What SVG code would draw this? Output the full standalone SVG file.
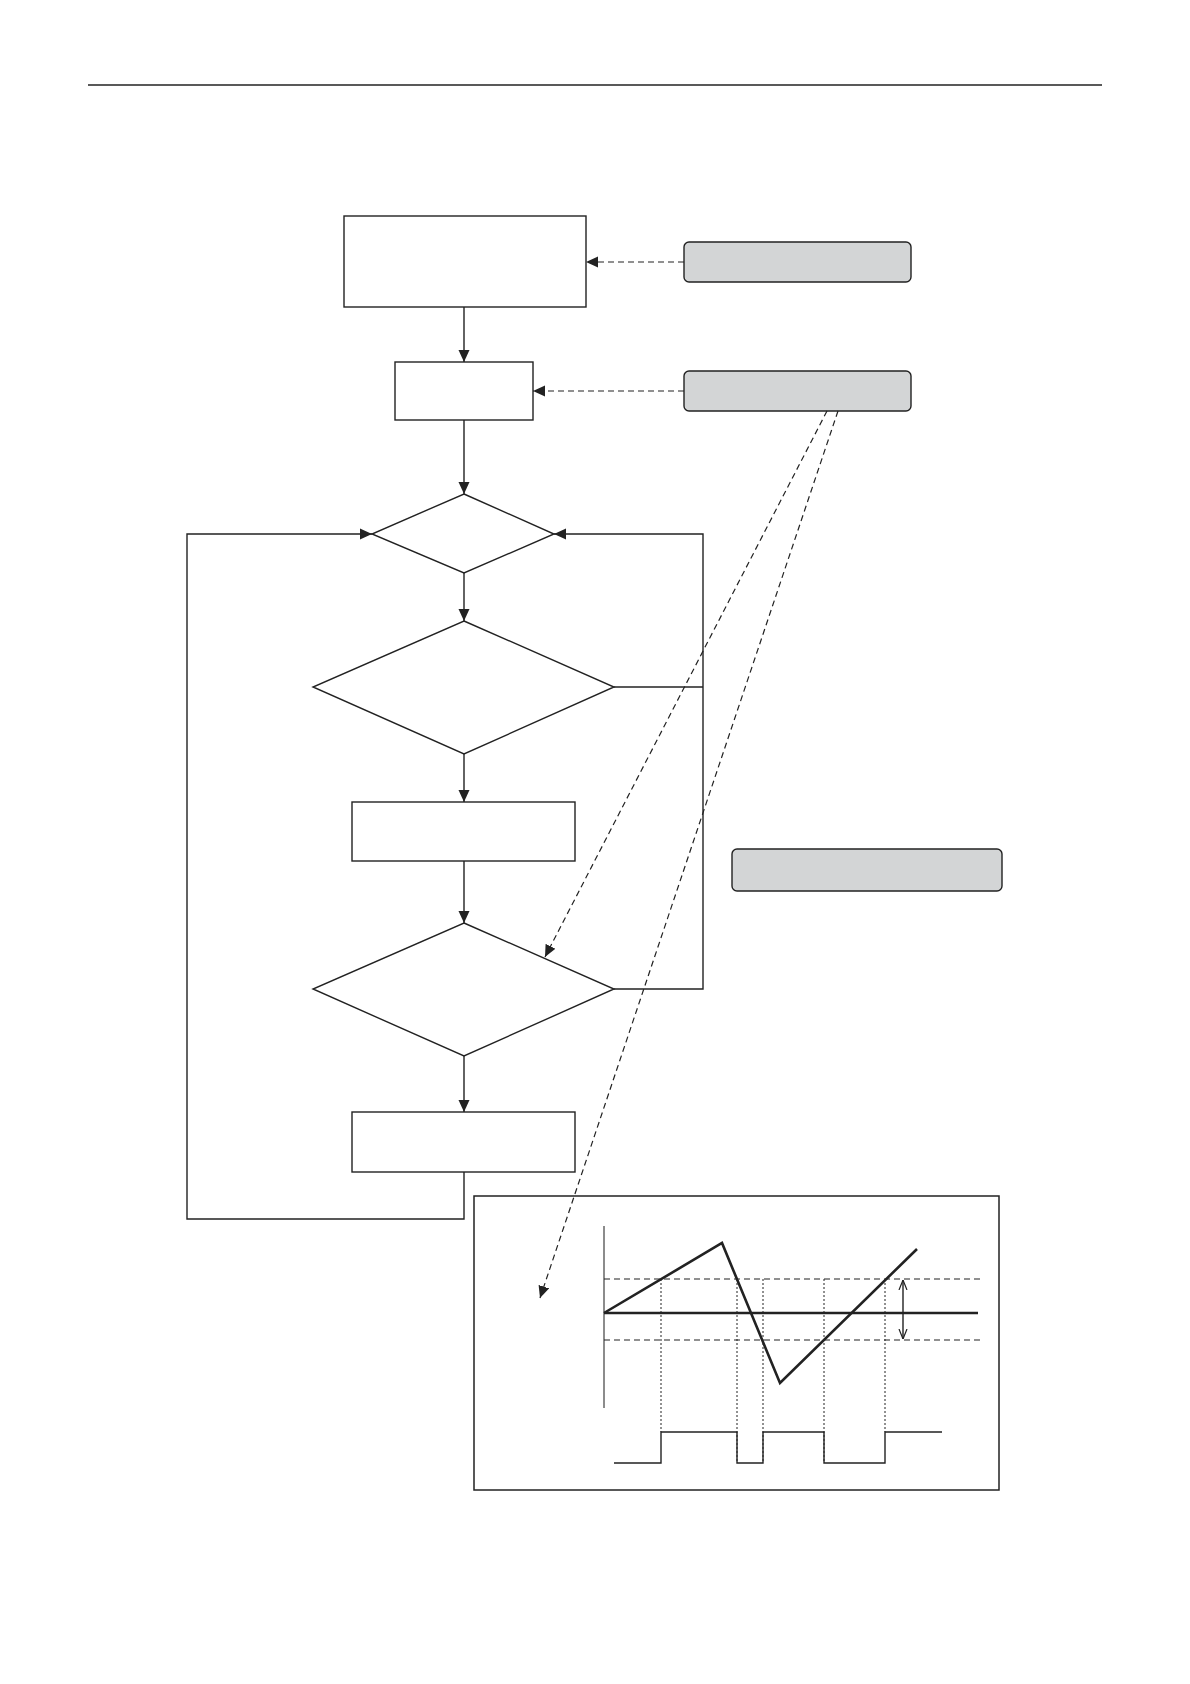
<svg xmlns="http://www.w3.org/2000/svg" width="1190" height="1684" viewBox="0 0 1190 1684">
<style>
.node{fill:#fff;stroke:#222;stroke-width:1.4}
.note{fill:#d3d5d6;stroke:#222;stroke-width:1.4}
.c{fill:none;stroke:#222;stroke-width:1.4}
.d{fill:none;stroke:#222;stroke-width:1.2;stroke-dasharray:6 4}
.dot{fill:none;stroke:#222;stroke-width:1;stroke-dasharray:2 2}
.thick{fill:none;stroke:#222;stroke-width:2.6}
</style>
<defs>
<marker id="ah" viewBox="0 0 12 12" refX="12" refY="6" markerWidth="12" markerHeight="12" markerUnits="userSpaceOnUse" orient="auto">
<path d="M0,0.5 L12,6 L0,11.5 Z" fill="#222"/>
</marker>
<marker id="oh" viewBox="0 0 10 10" refX="10" refY="5" markerWidth="10" markerHeight="10" markerUnits="userSpaceOnUse" orient="auto-start-reverse">
<path d="M0,1 L10,5 L0,9" fill="none" stroke="#222" stroke-width="1.2"/>
</marker>
</defs>
<rect width="1190" height="1684" fill="#fff"/>
<line x1="88" y1="85" x2="1102" y2="85" stroke="#222" stroke-width="1.5"/>

<g id="box1"><rect class="node" x="344" y="216" width="242" height="91"/></g>
<g id="noteA"><rect class="note" x="684" y="242" width="227" height="40" rx="5"/></g>
<g id="box2"><rect class="node" x="395" y="362" width="138" height="58"/></g>
<g id="noteB"><rect class="note" x="684" y="371" width="227" height="40" rx="5"/></g>
<g id="dec1"><polygon class="node" points="464,494 554,534 464,573 372,534"/></g>
<g id="dec2"><polygon class="node" points="464,621 614,687 464,754 313,687"/></g>
<g id="box3"><rect class="node" x="352" y="802" width="223" height="59"/></g>
<g id="noteC"><rect class="note" x="732" y="849" width="270" height="42" rx="5"/></g>
<g id="dec3"><polygon class="node" points="464,923 614,989 464,1056 313,989"/></g>
<g id="box4"><rect class="node" x="352" y="1112" width="223" height="60"/></g>

<g id="chart">
<rect x="474" y="1196" width="525" height="294" fill="#fff" stroke="#222" stroke-width="1.5"/>
<line x1="604" y1="1226" x2="604" y2="1408" stroke="#666" stroke-width="1.5"/>
<line class="d" x1="604" y1="1279" x2="982" y2="1279"/>
<line class="d" x1="604" y1="1340" x2="982" y2="1340"/>
<line class="thick" x1="604" y1="1313" x2="978" y2="1313"/>
<polyline class="thick" points="604,1313 722,1243 780,1383 917,1249"/>
<line class="dot" x1="661" y1="1279" x2="661" y2="1432"/>
<line class="dot" x1="737" y1="1279" x2="737" y2="1463"/>
<line class="dot" x1="763" y1="1279" x2="763" y2="1463"/>
<line class="dot" x1="824" y1="1279" x2="824" y2="1463"/>
<line class="dot" x1="885" y1="1279" x2="885" y2="1432"/>
<path class="c" d="M614,1463 H661 V1432 H737 V1463 H763 V1432 H824 V1463 H885 V1432 H942"/>
<line class="c" x1="903" y1="1280" x2="903" y2="1339" marker-start="url(#oh)" marker-end="url(#oh)"/>
</g>

<g id="connectors">
<line class="c" x1="464" y1="307" x2="464" y2="362" marker-end="url(#ah)"/>
<line class="c" x1="464" y1="420" x2="464" y2="494" marker-end="url(#ah)"/>
<line class="c" x1="464" y1="573" x2="464" y2="621" marker-end="url(#ah)"/>
<line class="c" x1="464" y1="754" x2="464" y2="802" marker-end="url(#ah)"/>
<line class="c" x1="464" y1="861" x2="464" y2="923" marker-end="url(#ah)"/>
<line class="c" x1="464" y1="1056" x2="464" y2="1112" marker-end="url(#ah)"/>
<polyline class="c" points="464,1172 464,1219 187,1219 187,534 372,534" marker-end="url(#ah)"/>
<polyline class="c" points="614,687 703,687"/>
<polyline class="c" points="614,989 703,989 703,534 554,534" marker-end="url(#ah)"/>
<line class="d" x1="684" y1="262" x2="586" y2="262" marker-end="url(#ah)"/>
<line class="d" x1="684" y1="391" x2="533" y2="391" marker-end="url(#ah)"/>
<line class="d" x1="827" y1="411" x2="545" y2="957" marker-end="url(#ah)"/>
<line class="d" x1="838" y1="411" x2="540" y2="1298" marker-end="url(#ah)"/>
</g>
</svg>
